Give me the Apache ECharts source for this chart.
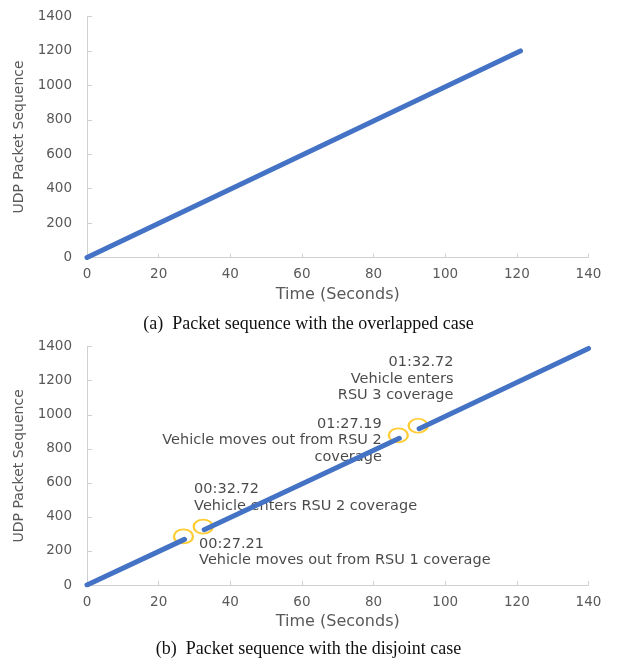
<!DOCTYPE html>
<html>
<head>
<meta charset="utf-8">
<script src="https://cdn.jsdelivr.net/npm/echarts@6/dist/echarts.min.js"></script>
<style>
html,body{margin:0;padding:0;background:#fff;}
#chart{width:617px;height:660px;}
</style>
</head>
<body>
<div id="chart"></div>
<script>
// ---- data ----
var xTicks = [0, 20, 40, 60, 80, 100, 120, 140];
var yTicks = [0, 200, 400, 600, 800, 1000, 1200, 1400];

// (a) overlapped case: [time (s), packet sequence]
var overlapped = [[0, 0], [121, 1200]];

// (b) disjoint case: three coverage segments
var disjointRSU1 = [[0, 0], [27.21, 268]];
var disjointRSU2 = [[32.72, 325], [87.19, 862]];
var disjointRSU3 = [[92.72, 918], [140, 1390]];

// handover events (circled)
var events = [[27.21, 268], [32.72, 325], [87.19, 862], [92.72, 918]];

// annotation texts and their anchors [time, sequence]
var annotationTexts = [
  '00:32.72\nVehicle enters RSU 2 coverage',
  '00:27.21\nVehicle moves out from RSU 1 coverage',
  '01:27.19\nVehicle moves out from RSU 2\ncoverage',
  '01:32.72\nVehicle enters\nRSU 3 coverage'
];
var annotationAnchors = [[29.9, 611], [31.3, 288], [82.3, 993], [102.3, 1357]];
var annotationAlign = ['left', 'left', 'right', 'right'];

var captionA = '(a)  Packet sequence with the overlapped case';
var captionB = '(b)  Packet sequence with the disjoint case';
var xName = 'Time (Seconds)';
var yName = 'UDP Packet Sequence';

// ---- chart ----
var chart = echarts.init(document.getElementById('chart'), null, {renderer: 'canvas'});
var SANS = 'DejaVu Sans';
var axisGrey = '#595959';
var lineBlue = '#4472C4';

function xAxis(gridIndex) {
  return {
    type: 'value', gridIndex: gridIndex, min: xTicks[0], max: xTicks[xTicks.length - 1],
    interval: xTicks[1] - xTicks[0],
    name: xName, nameLocation: 'middle', nameGap: 29,
    nameTextStyle: {color: axisGrey, fontFamily: SANS, fontSize: 16},
    axisLine: {show: true, lineStyle: {color: '#D0D0D0', width: 1}},
    axisTick: {show: true, inside: true, length: 4, lineStyle: {color: '#D0D0D0'}},
    axisLabel: {color: axisGrey, fontFamily: SANS, fontSize: 13.5, margin: 10,
      formatter: function (v) { return String(v); }},
    splitLine: {show: false}
  };
}
function yAxis(gridIndex) {
  return {
    type: 'value', gridIndex: gridIndex, min: yTicks[0], max: yTicks[yTicks.length - 1],
    interval: yTicks[1] - yTicks[0],
    name: yName, nameLocation: 'middle', nameGap: 56, nameRotate: 90,
    nameTextStyle: {color: axisGrey, fontFamily: SANS, fontSize: 14},
    axisLine: {show: true, lineStyle: {color: '#D0D0D0', width: 1}},
    axisTick: {show: true, inside: true, length: 5, lineStyle: {color: '#D0D0D0'}},
    axisLabel: {color: axisGrey, fontFamily: SANS, fontSize: 13.5, margin: 15,
      formatter: function (v) { return String(v); }},
    splitLine: {show: false}
  };
}
function lineSeries(data, gi) {
  return {
    type: 'line', xAxisIndex: gi, yAxisIndex: gi, data: data,
    showSymbol: false, symbol: 'none', silent: true, animation: false,
    lineStyle: {color: lineBlue, width: 5, cap: 'round'}
  };
}

var series = [
  lineSeries(overlapped, 0),
  lineSeries(disjointRSU1, 1),
  lineSeries(disjointRSU2, 1),
  lineSeries(disjointRSU3, 1),
  {
    type: 'scatter', xAxisIndex: 1, yAxisIndex: 1, data: events,
    symbol: 'circle', symbolSize: [19, 14], symbolOffset: [-1, -3], animation: false,
    itemStyle: {color: 'rgba(0,0,0,0)', borderColor: '#FFC000', borderWidth: 2}
  },
  {
    type: 'scatter', xAxisIndex: 1, yAxisIndex: 1, symbolSize: 0, animation: false,
    data: annotationAnchors.map(function (p, i) {
      return {
        value: p,
        label: {
          show: true, position: [0, 0], formatter: annotationTexts[i],
          align: annotationAlign[i], verticalAlign: 'top',
          color: '#1a1a1a', fontFamily: SANS, fontSize: 14.5, lineHeight: 16.5
        }
      };
    })
  }
];

chart.setOption({
  backgroundColor: '#ffffff',
  animation: false,
  grid: [
    {left: 87, top: 16.5, width: 501.5, height: 241},
    {left: 87, top: 346.7, width: 501.5, height: 238.3}
  ],
  xAxis: [xAxis(0), xAxis(1)],
  yAxis: [yAxis(0), yAxis(1)],
  title: [
    {text: captionA, left: 'center', top: 310,
     textStyle: {fontFamily: 'Liberation Serif', fontWeight: 'normal', fontSize: 18, color: '#111'}},
    {text: captionB, left: 'center', top: 635,
     textStyle: {fontFamily: 'Liberation Serif', fontWeight: 'normal', fontSize: 18, color: '#111'}}
  ],
  series: series
});
</script>
</body>
</html>
